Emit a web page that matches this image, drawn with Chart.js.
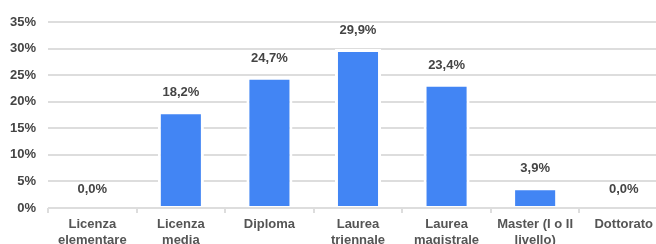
<!DOCTYPE html>
<html><head><meta charset="utf-8">
<script src="https://cdn.jsdelivr.net/npm/chart.js@4/dist/chart.umd.min.js"></script>
<style>
html,body{margin:0;padding:0;background:#fff;overflow:hidden;width:656px;height:244px;}
#wrap{width:668px;height:244px;}
</style></head>
<body><div id="wrap"><canvas id="c" width="668" height="244"></canvas></div>
<script>
const categories = [["Licenza","elementare"],["Licenza","media"],"Diploma",["Laurea","triennale"],["Laurea","magistrale"],["Master (I o II","livello)"],"Dottorato"];
const values = [0.0, 18.2, 24.7, 29.9, 23.4, 3.9, 0.0];
const yTicks = [0,5,10,15,20,25,30,35];

const FONT = "'Liberation Sans', Arial, sans-serif";

const labelPlugin = {
  id: 'valLabels',
  afterDatasetsDraw(chart) {
    const ctx = chart.ctx;
    const meta = chart.getDatasetMeta(0);
    ctx.save();
    ctx.font = "bold 13px " + FONT;
    ctx.fillStyle = '#444444';
    ctx.textAlign = 'center';
    ctx.textBaseline = 'middle';
    meta.data.forEach((bar, i) => {
      const txt = values[i].toFixed(1).replace('.', ',') + '%';
      ctx.fillText(txt, bar.x, bar.y - 18.5);
    });
    ctx.restore();
  }
};

new Chart(document.getElementById('c'), {
  type: 'bar',
  data: {
    labels: categories,
    datasets: [{
      data: values,
      backgroundColor: '#4285F4',
      borderColor: '#ffffff',
      borderWidth: {top: 3, left: 3, right: 3, bottom: 1},
      borderSkipped: false,
      categoryPercentage: 1,
      barPercentage: 0.52
    }]
  },
  options: {
    responsive: false,
    animation: false,
    devicePixelRatio: 1,
    layout: {padding: {top: 22, right: 0, left: 0, bottom: 0}},
    plugins: {legend: {display: false}, tooltip: {enabled: false}},
    scales: {
      y: {
        min: 0, max: 35,
        afterBuildTicks(scale) { scale.ticks = yTicks.map(v => ({value: v})); },
        afterFit(scale) { scale.width = 48; },
        border: {display: false},
        grid: {color: '#dddddd', lineWidth: 2, drawTicks: false},
        ticks: {
          padding: 12,
          color: '#444444',
          font: {family: FONT, size: 13, weight: 'bold'},
          callback: v => v + '%'
        }
      },
      x: {
        offset: true,
        afterFit(scale) { scale.height = 36; },
        border: {display: false},
        grid: {drawOnChartArea: false, offset: true, tickLength: 5, color: '#dddddd', lineWidth: 2},
        ticks: {
          padding: 3,
          maxRotation: 0,
          autoSkip: false,
          color: '#555555',
          font: {family: FONT, size: 13, weight: 'bold', lineHeight: 1.23}
        }
      }
    }
  },
  plugins: [labelPlugin]
});
</script>
</body></html>
